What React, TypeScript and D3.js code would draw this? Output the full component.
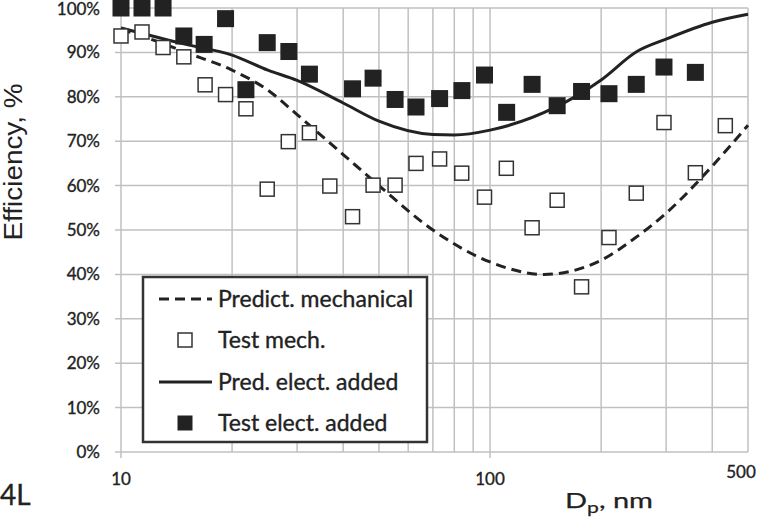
import React from 'react';
import * as d3 from 'd3';

const WIDTH = 758;
const HEIGHT = 520;

const MARGIN = {
  top: 8,
  right: 10,
  bottom: 68,
  left: 121,
};

// measured test points (D_p in nm, efficiency in %)
const MECH_X = [10, 11.4, 13.0, 14.8, 16.9, 19.2, 21.8, 24.9, 28.4, 32.4, 36.8, 42.4, 48.2, 55.3, 63.0, 73.0, 83.8, 96.6, 110.7, 130, 152, 177, 210, 249, 296, 360, 434];
const MECH_Y = [93.7, 94.6, 91.1, 89.0, 82.7, 80.5, 77.3, 59.2, 69.9, 71.9, 59.9, 53.0, 60.1, 60.1, 65.0, 66.0, 62.8, 57.4, 63.9, 50.5, 56.7, 37.2, 48.3, 58.3, 74.2, 62.9, 73.5];

const ELEC_X = [10, 11.4, 13.0, 14.8, 16.8, 19.2, 21.8, 24.9, 28.5, 32.4, 42.4, 48.2, 55.3, 63.0, 73.0, 83.9, 96.6, 110.9, 130, 152, 177, 210, 249, 296, 360];
const ELEC_Y = [100, 100, 100, 93.7, 91.8, 97.6, 81.6, 92.2, 90.2, 85.1, 81.8, 84.2, 79.4, 77.7, 79.6, 81.4, 84.9, 76.5, 82.8, 78.0, 81.2, 80.7, 82.8, 86.7, 85.5];

// predicted curves
const PRED_MECH_X = [10, 13, 15, 20, 25, 30, 40, 50, 70, 100, 140, 200, 250, 300, 400, 500];
const PRED_MECH_Y = [95.2, 92, 90, 86, 81.5, 76, 67, 60, 50, 42.8, 40, 43.2, 48.5, 53.8, 64.4, 73.6];

const PRED_ELEC_X = [10, 15, 20, 25, 30, 40, 50, 70, 80, 100, 150, 200, 250, 300, 400, 500];
const PRED_ELEC_Y = [95.5, 91.8, 89.4, 86, 83.7, 78.6, 74.5, 71.5, 71.4, 72.5, 77.6, 83.8, 90.2, 93, 96.8, 98.6];

const Y_TICKS = [0, 10, 20, 30, 40, 50, 60, 70, 80, 90, 100];
const X_GRID = [20, 30, 40, 50, 60, 70, 80, 90, 200, 300, 400, 500];
const X_LABELS = [10, 100, 500];

const LEGEND = ['Predict. mechanical', 'Test mech.', 'Pred. elect. added', 'Test elect. added'];

const LABEL_FONT = 'Lato, "Open Sans", sans-serif';
const INK = '#222';
const GRID = '#c0c0c0';

export default function App() {
  const x = d3.scaleLog()
    .domain([10, 500])
    .range([MARGIN.left, WIDTH - MARGIN.right]);

  const y = d3.scaleLinear()
    .domain([0, 100])
    .range([HEIGHT - MARGIN.bottom, MARGIN.top]);

  const line = d3.line<[number, number]>()
    .x(d => x(d[0]))
    .y(d => y(d[1]))
    .curve(d3.curveMonotoneX);

  const mechPath = line(PRED_MECH_X.map((v, i) => [v, PRED_MECH_Y[i]]));
  const elecPath = line(PRED_ELEC_X.map((v, i) => [v, PRED_ELEC_Y[i]]));

  const x0 = x.range()[0];
  const x1 = x.range()[1];
  const y0 = y.range()[0];
  const y1 = y.range()[1];

  const openSize = 14;
  const fillSize = 17;

  const legendX = 143;
  const legendY = 277;
  const legendRows = [299, 340, 382, 423];

  // slight outline to thicken the thin glyphs like the scanned original
  const bold = { stroke: INK, strokeWidth: 0.35 };

  return (
    <div style={{ position: 'absolute', left: 0, top: 0 }}>
      <svg width={WIDTH} height={HEIGHT} viewBox={`0 0 ${WIDTH} ${HEIGHT}`} style={{ display: 'block', background: '#fff' }}>
        {/* grid */}
        <g stroke={GRID} strokeWidth={1.5}>
          {Y_TICKS.map(t => (
            <line key={'h' + t} x1={x0 - 6} x2={x1} y1={y(t)} y2={y(t)} />
          ))}
          {X_GRID.map(t => (
            <line key={'v' + t} x1={x(t)} x2={x(t)} y1={y1} y2={y0} />
          ))}
          <line x1={x0} x2={x0} y1={y1} y2={y0 + 6} />
          <line x1={x(100)} x2={x(100)} y1={y1} y2={y0 + 6} />
        </g>

        {/* y tick labels */}
        <g fontFamily={LABEL_FONT} fontSize={17} fill={INK} textAnchor="end" {...bold}>
          {Y_TICKS.map(t => (
            <text key={'yl' + t} x={x0 - 21} y={Math.max(y(t) + 6, 15)}>{t}%</text>
          ))}
        </g>

        {/* x tick labels */}
        <g fontFamily={LABEL_FONT} fontSize={17} fill={INK} textAnchor="middle" {...bold}>
          {X_LABELS.map(t => (
            <text key={'xl' + t} x={t === 500 ? x(t) - 7 : x(t)} y={t === 500 ? 478 : 485}>{t}</text>
          ))}
        </g>

        {/* predicted curves */}
        <path d={mechPath || ''} fill="none" stroke={INK} strokeWidth={3} strokeDasharray="10,6" />
        <path d={elecPath || ''} fill="none" stroke={INK} strokeWidth={3} />

        {/* test points */}
        <g>
          {MECH_X.map((v, i) => (
            <rect key={'m' + i} x={x(v) - openSize / 2} y={y(MECH_Y[i]) - openSize / 2}
              width={openSize} height={openSize} fill="#fff" stroke="#333" strokeWidth={1.5} />
          ))}
        </g>
        <g>
          {ELEC_X.map((v, i) => (
            <rect key={'e' + i} x={x(v) - fillSize / 2} y={y(ELEC_Y[i]) - fillSize / 2}
              width={fillSize} height={fillSize} fill={INK} />
          ))}
        </g>

        {/* legend */}
        <rect x={legendX} y={legendY} width={284} height={165} fill="#fff" stroke="#333" strokeWidth={2.5} />
        <line x1={159} x2={212} y1={legendRows[0]} y2={legendRows[0]} stroke={INK} strokeWidth={3} strokeDasharray="10,6" />
        <rect x={185 - 7} y={legendRows[1] - 7} width={14} height={14} fill="#fff" stroke="#333" strokeWidth={1.5} />
        <line x1={159} x2={212} y1={legendRows[2]} y2={legendRows[2]} stroke={INK} strokeWidth={3} />
        <rect x={185 - 7.5} y={legendRows[3] - 7.5} width={15} height={15} fill={INK} />
        <g fontFamily={LABEL_FONT} fontSize={23} fill={INK} {...bold}>
          {LEGEND.map((s, i) => (
            <text key={s} x={218} y={legendRows[i] + 8}>{s}</text>
          ))}
        </g>

        {/* axis titles */}
        <text transform="translate(22,162) rotate(-90)" textAnchor="middle" textLength={157} lengthAdjust="spacingAndGlyphs"
          fontFamily='"Liberation Sans", Arial, sans-serif' fontSize={26} fill={INK}>Efficiency, %</text>
        <text x={565} y={508} textLength={88} lengthAdjust="spacingAndGlyphs"
          fontFamily={LABEL_FONT} fontSize={22} fill={INK} stroke={INK} strokeWidth={0.25}>
          D<tspan fontSize={16} dy={5}>p</tspan><tspan dy={-5}>, nm</tspan>
        </text>
        <text x={0} y={505} fontFamily={LABEL_FONT} fontSize={28} fill={INK} {...bold}>4L</text>
      </svg>
    </div>
  );
}
